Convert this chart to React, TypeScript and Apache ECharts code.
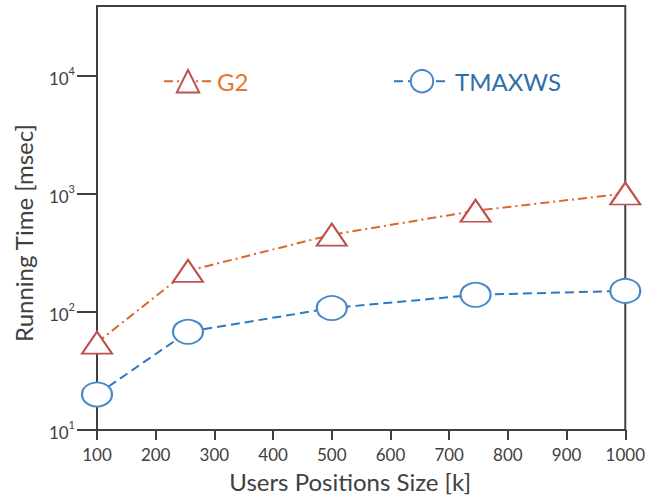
import React, { useEffect, useRef } from "react";
import * as echarts from "echarts";

const xValues = [100, 255, 500, 745, 1000];
const g2Values = [55, 223, 452, 721, 1010];
const tmaxwsValues = [20, 68, 108, 140, 151];
const yTickValues = [10, 100, 1000, 10000];
const seriesNames = ["G2", "TMAXWS"];

const FONT = "Lato";
const AXIS_COLOR = "#404040";

export default function App() {
  const ref = useRef<HTMLDivElement>(null);
  useEffect(() => {
    if (!ref.current) return;
    const chart = echarts.init(ref.current, undefined, { renderer: "svg" });
    const pairs = (ys: number[]) => xValues.map((x, i) => [x, ys[i]]);
    chart.setOption({
      animation: false,
      backgroundColor: "#ffffff",
      textStyle: { fontFamily: FONT },
      grid: {
        left: 97,
        right: 20,
        top: 6,
        bottom: 70,
        show: true,
        borderColor: AXIS_COLOR,
        borderWidth: 2,
        containLabel: false,
      },
      legend: [
        {
          data: [{ name: seriesNames[0], textStyle: { color: "#E2782F" } }],
          left: 158,
          top: 64,
          itemWidth: 48,
          itemHeight: 28,
          selectedMode: false,
          textStyle: { fontSize: 24, fontFamily: FONT },
        },
        {
          data: [{ name: seriesNames[1], textStyle: { color: "#2F6FA8" } }],
          left: 388,
          top: 64,
          itemWidth: 56,
          itemHeight: 28,
          selectedMode: false,
          textStyle: { fontSize: 24, fontFamily: FONT },
        },
      ],
      xAxis: {
        type: "value",
        min: 100,
        max: 1000,
        interval: 100,
        name: "Users Positions Size [k]",
        nameLocation: "middle",
        nameGap: 39,
        nameTextStyle: { fontSize: 24, color: AXIS_COLOR, fontFamily: FONT, padding: [0, 22, 0, 0] },
        axisLine: { show: true, lineStyle: { color: AXIS_COLOR, width: 2 } },
        axisTick: { show: true, inside: false, length: 10, lineStyle: { color: AXIS_COLOR, width: 2 } },
        axisLabel: { fontSize: 17, color: AXIS_COLOR, margin: 16, fontFamily: FONT, formatter: (v: number) => String(v) },
        splitLine: { show: false },
      },
      yAxis: {
        type: "log",
        logBase: 10,
        min: 10,
        max: 39200,
        name: "Running Time [msec]",
        nameLocation: "middle",
        nameGap: 62,
        nameTextStyle: { fontSize: 24, color: AXIS_COLOR, fontFamily: FONT, padding: [0, 30, 0, 0] },
        axisLine: { show: true, lineStyle: { color: AXIS_COLOR, width: 2 } },
        axisTick: {
          show: true,
          inside: false,
          length: 20,
          customValues: yTickValues,
          lineStyle: { color: AXIS_COLOR, width: 2 },
        },
        axisLabel: {
          customValues: yTickValues,
          margin: 22,
          color: AXIS_COLOR,
          formatter: (v: number) => `{b|10}{s|${Math.round(Math.log10(v))}}`,
          rich: {
            b: { fontSize: 17, color: AXIS_COLOR, fontFamily: FONT, verticalAlign: "bottom", lineHeight: 22 },
            s: { fontSize: 11, color: AXIS_COLOR, fontFamily: FONT, verticalAlign: "top", lineHeight: 22, padding: [0, 0, 8, 0] },
          },
        },
        splitLine: { show: false },
        minorTick: { show: false },
      },
      series: [
        {
          name: seriesNames[0],
          type: "line",
          data: pairs(g2Values),
          symbol: "triangle",
          symbolSize: [30, 22],
          itemStyle: { color: "#ffffff", borderColor: "#C0504D", borderWidth: 2 },
          lineStyle: { color: "#D8692C", width: 2, type: [9, 4, 2, 4] },
          z: 3,
        },
        {
          name: seriesNames[1],
          type: "line",
          data: pairs(tmaxwsValues),
          symbol: "circle",
          symbolSize: [30, 24],
          itemStyle: { color: "#ffffff", borderColor: "#4A89C8", borderWidth: 2 },
          lineStyle: { color: "#2E78C2", width: 2, type: [9, 5] },
          z: 2,
        },
      ],
    });
    return () => chart.dispose();
  }, []);
  return <div ref={ref} style={{ width: 648, height: 500, position: "absolute", left: 0, top: 0 }} />;
}
